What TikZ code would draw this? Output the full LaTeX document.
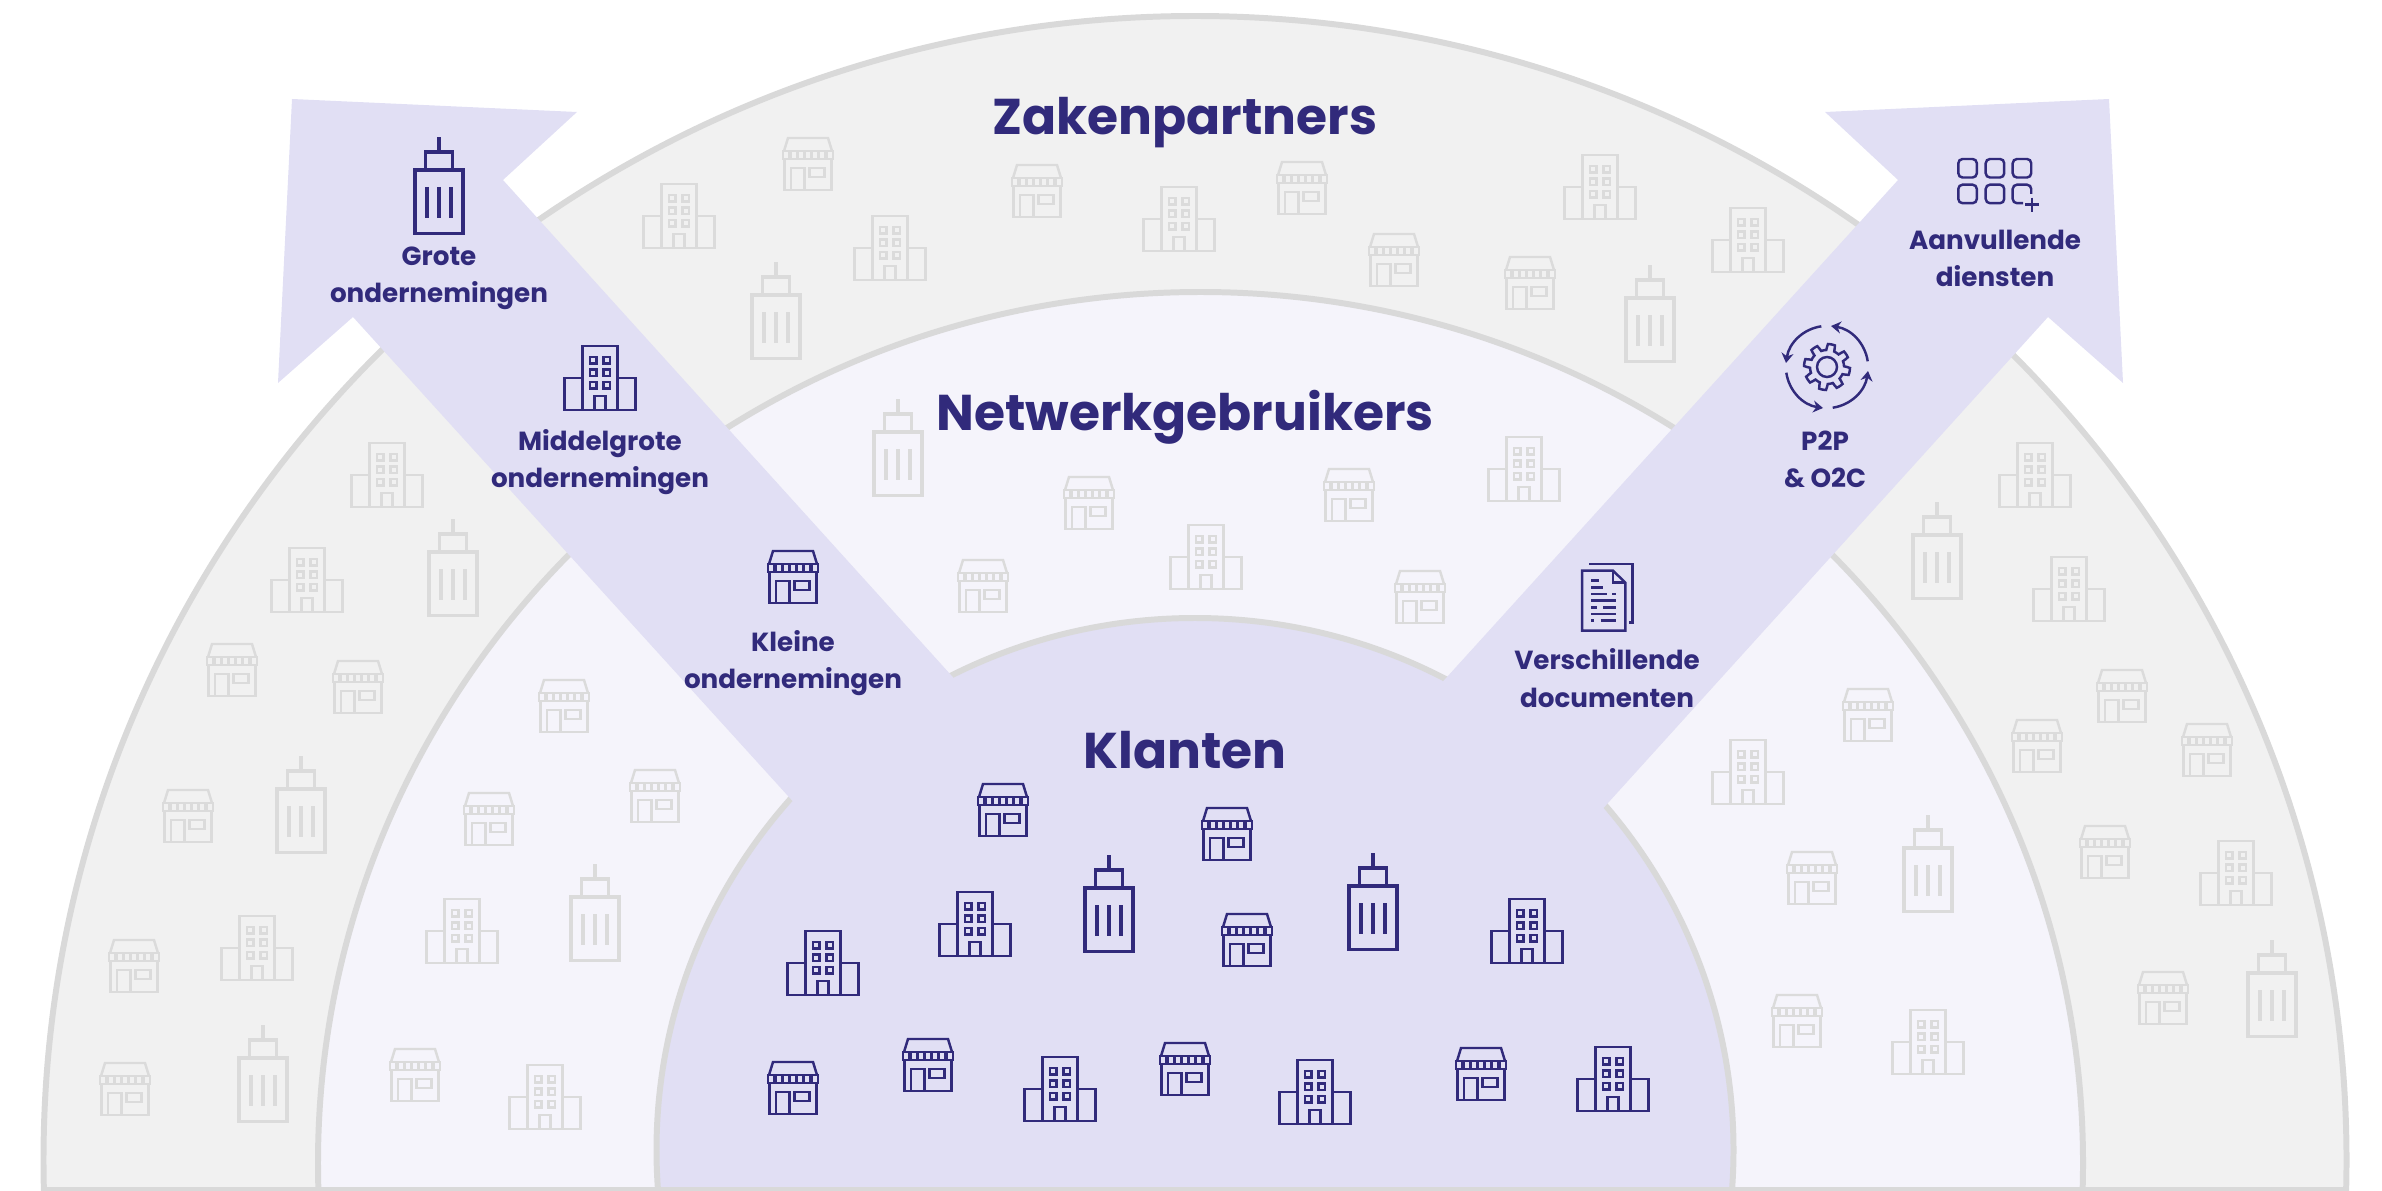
\documentclass[tikz,border=0pt]{standalone}
\usepackage{fontspec}
\setmainfont{Poppins}
\usetikzlibrary{arrows.meta}
\definecolor{ringline}{HTML}{D9D9D9}
\definecolor{outerfill}{HTML}{F1F1F1}
\definecolor{middlefill}{HTML}{F5F4FB}
\definecolor{innerfill}{HTML}{E1DFF4}
\definecolor{navy}{HTML}{312A7B}
\definecolor{faint}{HTML}{DBDBDB}
\tikzset{
    ring/.style={draw=ringline, line width=1.7pt},
    biglabel/.style={text=navy, inner sep=0pt, font=\fontsize{14.3}{17}\selectfont\bfseries},
    smalllabel/.style={text=navy, inner sep=0pt, align=center, font=\fontsize{7.45}{10.6}\selectfont\bfseries},
    tower/.pic={
        \begin{scope}[line width=1pt]
        \draw (-24,-16) rectangle (24,47.5);
        \draw (-13.5,-16) -- (-13.5,-34) -- (13.5,-34) -- (13.5,-16);
        \draw (0,-34) -- (0,-49);
        \foreach \bx in {-12,0,12} {
            \draw (\bx,1) -- (\bx,32);
        }
        \end{scope}
    },
    office/.pic={
        \draw (-17.5,-32) rectangle (17.5,32);
        \draw (-17.5,0) -- (-35.5,0) -- (-35.5,32) -- (35.5,32) -- (35.5,0) -- (17.5,0);
        \draw (-5.5,32) -- (-5.5,18) -- (5.5,18) -- (5.5,32);
        \foreach \wx in {-10,3.5} {
            \foreach \wy in {-21,-8.5,4} {
                \draw (\wx,\wy) rectangle +(6.5,6.5);
            }
        }
    },
    shop/.pic={
        \draw (-24,-13) -- (-20,-26) -- (20,-26) -- (24,-13);
        \draw (-25,-13) rectangle (25,-5);
        \foreach \sx in {-17.9,-10.7,-3.6,3.6,10.7,17.9} {
            \draw[line width=1pt] (\sx,-13) -- (\sx,-5);
        }
        \draw (-23.5,-5) -- (-23.5,26) -- (23.5,26) -- (23.5,-5);
        \draw (-17,26) -- (-17,4) -- (-3.5,4) -- (-3.5,26);
        \draw (1.5,4) rectangle (16.5,13);
    },
    docicon/.pic={
        \begin{scope}[scale=1/3]
        \draw (-54,-99) -- (76,-99) -- (76,77) -- (66,77);
        \draw (-75,-79) -- (18,-79) -- (55,-43) -- (55,101) -- (-75,101) -- cycle;
        \draw (18,-79) -- (18,-43) -- (55,-43);
        \draw (-47,-49) -- (-25,-49);
        \draw (-47,-29) -- (-12,-29);
        \draw (-47,-9) -- (0,-9) (16,-9) -- (28,-9);
        \draw (-47,11) -- (28,11);
        \draw (-47,31) -- (-30,31) (-12,31) -- (28,31);
        \draw (-47,51) -- (28,51);
        \draw (-47,71) -- (-39,71) (-19,71) -- (28,71);
        \end{scope}
    },
    gearicon/.pic={
        \foreach \a in {0,90,180,270} {
            \draw[-{Stealth[length=2.8pt,width=3.4pt]}, rotate=\a]
                (-5.7,-40.7) .. controls (-24,-38) and (-38,-24) .. (-41,-4);
        }
        \draw plot[samples=145, domain=0:360]
            ({(20+3*max(-1,min(1,3*sin(8*\x))))*cos(\x)},{(20+3*max(-1,min(1,3*sin(8*\x))))*sin(\x)}) -- cycle;
        \draw (0,0) circle [radius=10];
    },
    gridicon/.pic={
        \foreach \gx/\gy in {-36.7/-22,-9.3/-22,17.7/-22,-36.7/3.7,-9.3/3.7} {
            \draw[rounded corners=1.2pt] (\gx,\gy) rectangle +(18.5,18.5);
        }
        \draw[rounded corners=1.2pt] (36.2,13) -- (36.2,3.7) -- (17.7,3.7) -- (17.7,22.2) -- (28,22.2);
        \draw (30,23.7) -- (44,23.7) (37,16.7) -- (37,30.7);
    }
}
\begin{document}
\begin{tikzpicture}[x=0.01cm, y=-0.01cm, line width=0.7pt]
    \useasboundingbox (0,0) rectangle (2382,1191);
    \clip (0,0) rectangle (2382,1191);
    % half rings
    \draw[ring, fill=outerfill] (1195,1160) ellipse [x radius=1151.5, y radius=1144];
    \draw[ring, fill=middlefill] (1200.5,1163) ellipse [x radius=882.5, y radius=871];
    \draw[ring, fill=innerfill] (1195,1150) ellipse [x radius=538.5, y radius=532];
    \draw[ring] (43,1190) -- (2347,1190);
    % arrows
    \fill[innerfill] (292,99) -- (577,112) -- (503,180) -- (960,685) -- (798,807) -- (353,317) -- (278,383) -- cycle;
    \fill[innerfill] (2109,99) -- (1825,112) -- (1898,180) -- (1437,688) -- (1598,814) -- (2048,317) -- (2123,383) -- cycle;
    % buildings in the back
    \begin{scope}[color=faint]
        \foreach \x/\y in {776/311,1650/314,898/448,453/568,301/805,595/913,263/1074,1937/551,1928/864,2272/989} {
            \pic at (\x,\y) {tower};
        }
        \foreach \x/\y in {679/216,1179/219,890/248,1600/187,1748/240,1524/469,1206/557,387/475,307/580,257/948,462/931,545/1097,1748/772,1928/1042,2035/475,2069/589,2236/873} {
            \pic at (\x,\y) {office};
        }
        \foreach \x/\y in {808/164,1037/191,1302/188,1394/260,1530/283,1089/503,1349/495,983/586,1420/597,232/670,358/687,188/816,134/966,125/1089,564/706,655/796,489/819,415/1075,1868/715,1812/878,1797/1021,2122/696,2037/746,2207/750,2105/852,2163/998} {
            \pic at (\x,\y) {shop};
        }
    \end{scope}
    % buildings in front
    \begin{scope}[color=navy]
        \foreach \x/\y in {1109/904,1373/902,439/186} {
            \pic at (\x,\y) {tower};
        }
        \foreach \x/\y in {975/924,823/963,1527/931,1060/1089,1315/1092,1613/1079,600/378} {
            \pic at (\x,\y) {office};
        }
        \foreach \x/\y in {1003/810,1227/834,1247/940,793/1088,928/1065,1185/1069,1481/1074,793/577} {
            \pic at (\x,\y) {shop};
        }
        \pic at (1607,597) {docicon};
        \pic at (1827,367) {gearicon};
        \pic at (1995,181) {gridicon};
    \end{scope}
    \node[biglabel] (zaken) at (1185,123) {Zakenpartners};
    \node[biglabel] (netwerk) at (1185,417) {Netwerkgebruikers};
    \node[biglabel] (klanten) at (1185,750) {Klanten};
    \node[smalllabel] (grote) at (439,278.5) {Grote\\ondernemingen};
    \node[smalllabel] (middel) at (600,462) {Middelgrote\\ondernemingen};
    \node[smalllabel] (kleine) at (793,663) {Kleine\\ondernemingen};
    \node[smalllabel] (docs) at (1607,678) {Verschillende\\documenten};
    \node[smalllabel] (p2p) at (1825,459.5) {P2P\\\& O2C};
    \node[smalllabel] (extra) at (1995,258.5) {Aanvullende\\diensten};
\end{tikzpicture}
\end{document}
